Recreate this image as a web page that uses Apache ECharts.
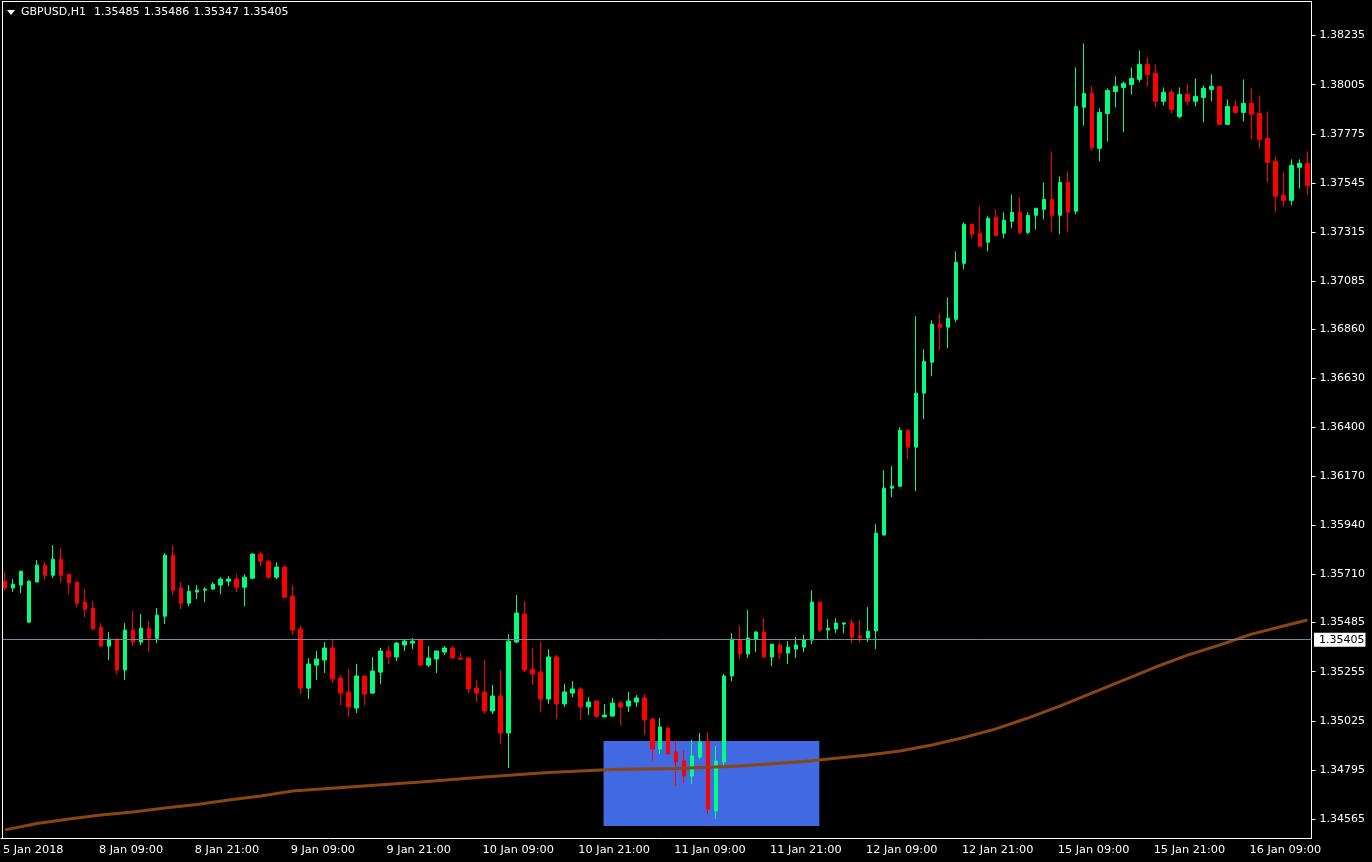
<!DOCTYPE html>
<html lang="en">
<head>
<meta charset="UTF-8">
<style>
html, body { margin: 0; height: 100%; background: #000; }
</style>
</head>
<body>
<div id="chart" style="width:1372px;height:862px;"></div>
<script src="https://cdn.jsdelivr.net/npm/echarts@6/dist/echarts.min.js"></script>
<script>
// prices in points (1.35405 = 135405), one entry per hourly candle
var openVals = [
135679,135647,135661,135487,135675,135754,135707,135782,135712,135675,
135581,135553,135464,135375,135408,135263,135450,135394,135459,135412,
135515,135801,135647,135576,135628,135637,135642,135661,135679,135689,
135651,135693,135806,135773,135698,135745,135609,135455,135178,135286,
135310,135366,135225,135160,135085,135235,135155,135253,135352,135324,
135380,135389,135403,135286,135314,135347,135366,135319,135319,135178,
135160,135071,135141,134968,135394,135525,135267,135253,135127,135324,
135104,135155,135174,135090,135118,135043,135047,135108,135094,135113,
135132,135033,134893,134991,134879,134837,134767,134855,134930,134603,
134832,135235,135403,135338,135408,135441,135324,135380,135342,135361,
135370,135403,135581,135450,135455,135478,135483,135422,135413,135446,
135895,136115,136124,136386,136307,136560,136705,136883,136869,136906,
137168,137351,137309,137267,137384,137309,137365,137407,137313,137393,
137421,137468,137393,137547,137412,137899,137964,137707,137870,137973,
137992,138006,138030,138100,138058,137927,137969,137856,137959,137927,
137945,137983,137997,137819,137903,137875,137917,137870,137753,137646,
137487,137463,137618,137636];
var closeVals = [
135647,135665,135726,135679,135754,135707,135782,135707,135670,135576,
135548,135455,135375,135408,135263,135450,135394,135459,135412,135520,
135801,135637,135576,135632,135637,135642,135665,135689,135689,135651,
135698,135806,135773,135698,135745,135604,135450,135178,135291,135314,
135366,135221,135155,135090,135235,135150,135258,135352,135324,135389,
135398,135398,135286,135319,135352,135366,135319,135314,135174,135155,
135071,135141,134968,135398,135530,135263,135244,135127,135324,135104,
135160,135174,135090,135113,135047,135052,135108,135090,135118,135132,
135029,134893,134996,134870,134832,134767,134860,134926,134612,134837,
135235,135408,135338,135413,135441,135324,135384,135342,135370,135380,
135403,135581,135450,135459,135483,135483,135417,135413,135445,135904,
136115,136124,136386,136307,136560,136709,136883,136869,136911,137173,
137351,137304,137248,137379,137299,137370,137407,137313,137393,137426,
137468,137393,137547,137407,137903,137964,137711,137875,137978,137997,
138011,138034,138100,138053,137927,137969,137889,137959,137927,137950,
137988,137997,137819,137903,137875,137917,137866,137749,137641,137482,
137463,137627,137636,137533];
var lowVals = [
135637,135628,135623,135487,135675,135684,135693,135670,135618,135558,
135511,135450,135375,135309,135244,135216,135375,135380,135347,135389,
135478,135614,135548,135562,135595,135581,135637,135618,135656,135628,
135562,135689,135749,135689,135689,135604,135427,135150,135127,135216,
135249,135202,135099,135043,135061,135099,135150,135197,135291,135305,
135352,135361,135286,135277,135249,135333,135314,135310,135155,135113,
135057,135057,134916,134804,135389,135253,135193,135066,135104,135033,
135090,135136,135029,135052,135038,135043,135047,135005,135066,135090,
134958,134837,134870,134865,134720,134734,134729,134846,134589,134565,
134809,135211,135314,135319,135347,135319,135281,135314,135291,135319,
135347,135384,135441,135403,135436,135436,135389,135394,135394,135361,
135895,136073,136120,136251,136101,136438,136639,136761,136770,136892,
137140,137285,137248,137224,137295,137285,137332,137304,137304,137327,
137374,137313,137304,137313,137398,137814,137697,137646,137739,137899,
137782,137959,138016,137997,137899,137908,137870,137847,137908,137903,
137828,137927,137819,137819,137870,137833,137749,137707,137548,137407,
137435,137440,137519,137487];
var highVals = [
135721,135689,135726,135684,135778,135768,135848,135834,135712,135675,
135642,135586,135483,135441,135412,135483,135539,135525,135492,135553,
135810,135848,135675,135661,135661,135651,135675,135698,135703,135712,
135712,135810,135815,135778,135768,135754,135661,135469,135319,135352,
135394,135408,135239,135267,135291,135235,135324,135366,135375,135394,
135408,135413,135403,135375,135352,135375,135375,135342,135324,135216,
135310,135193,135263,135431,135614,135586,135366,135394,135361,135333,
135197,135211,135183,135136,135118,135104,135132,135118,135160,135146,
135150,135038,135038,134996,134930,134888,134935,134968,134973,134907,
135244,135436,135473,135544,135445,135506,135384,135394,135398,135417,
135427,135637,135581,135501,135506,135487,135501,135497,135558,135946,
136199,136218,136401,136391,136920,136766,136901,136934,137009,137224,
137360,137355,137435,137388,137421,137407,137491,137477,137407,137426,
137547,137693,137575,137599,138086,138198,137997,137894,137988,138044,
138020,138086,138165,138133,138100,137992,137983,137992,138011,138034,
138002,138053,137997,137936,137931,138030,137988,137955,137880,137669,
137594,137655,137655,137693];

// moving average read at these candles
var maIndex = [0,4,8,12,16,20,24,28,32,36,44,52,60,68,76,84,92,100,108,112,116,120,124,128,132,136,140,144,148,152,156,160,163];
var maVals = [134514,134544,134565,134584,134598,134617,134633,134654,134673,134696,134717,134738,134762,134783,134797,134802,134813,134834,134865,134884,134912,134947,134987,135038,135094,135155,135216,135277,135333,135380,135431,135469,135497];

var priceTicks = [138235,138005,137775,137545,137315,137085,136860,136630,136400,136170,135940,135710,135485,135255,135025,134795,134565];
var timeLabels = ['5 Jan 2018','8 Jan 09:00','8 Jan 21:00','9 Jan 09:00','9 Jan 21:00','10 Jan 09:00','10 Jan 21:00','11 Jan 09:00','11 Jan 21:00','12 Jan 09:00','12 Jan 21:00','15 Jan 09:00','15 Jan 21:00','16 Jan 09:00'];

var lastPrice = 135405;
var boxFrom = 75, boxTo = 102, boxLow = 134532, boxHigh = 134930;
var symbolText = 'GBPUSD,H1';
var ohlcText = ['1.35485', '1.35486', '1.35347', '1.35405'];

var categories = openVals.map(function (v, i) { return String(i); });
var candleData = openVals.map(function (v, i) {
    return [v, closeVals[i], lowVals[i], highVals[i]];
});
var maData = maIndex.map(function (k, i) { return [k, maVals[i]]; });

var fontName = 'DejaVu Sans';
var yMin = 134476, yMax = 138390;

var headerTexts = ohlcText.map(function (t, i) {
    return {
        type: 'text', z: 51, silent: true, x: 94 + i * 49.7, y: 7,
        style: { text: t, fill: '#fff', fontSize: 11, fontFamily: fontName }
    };
});

var myChart = echarts.init(document.getElementById('chart'));
myChart.setOption({
    animation: false,
    backgroundColor: '#000',
    title: {
        text: symbolText, left: 21, top: 7, padding: 0,
        textStyle: { color: '#fff', fontSize: 11, fontWeight: 'normal', fontFamily: fontName }
    },
    grid: [
        { left: -0.5, top: 2.5, width: 1312, height: 835.5 },
        // half a pixel to the left, so the rectangle edges land on whole pixels
        { left: -1, top: 2.5, width: 1312, height: 835.5 }
    ],
    xAxis: [
        {
            type: 'category',
            data: categories,
            axisLine: { lineStyle: { color: '#fff', width: 1 } },
            axisTick: { length: 4, interval: 11, alignWithLabel: true, lineStyle: { color: '#fff' } },
            axisLabel: {
                interval: 11, align: 'left', margin: 7, padding: [0, 0, 0, -2],
                color: '#fff', fontSize: 11.3, fontFamily: fontName,
                formatter: function (v, i) { return timeLabels[i / 12]; }
            },
            splitLine: { show: false }
        },
        { type: 'category', gridIndex: 1, data: categories, show: false }
    ],
    yAxis: [
        {
            type: 'value',
            position: 'right',
            min: yMin,
            max: yMax,
            axisLine: { show: true, lineStyle: { color: '#fff', width: 1 } },
            axisTick: { show: true, length: 4, customValues: priceTicks, lineStyle: { color: '#fff' } },
            axisLabel: {
                customValues: priceTicks, margin: 8,
                color: '#fff', fontSize: 11, fontFamily: fontName,
                formatter: function (v) { return (v / 100000).toFixed(5); }
            },
            splitLine: { show: false }
        },
        { type: 'value', gridIndex: 1, min: yMin, max: yMax, show: false, splitLine: { show: false } }
    ],
    series: [
        {
            type: 'line', data: [], z: 1, silent: true, xAxisIndex: 1, yAxisIndex: 1,
            markArea: {
                silent: true,
                itemStyle: { color: '#4169E1', opacity: 1 },
                data: [[{ xAxis: boxFrom, yAxis: boxHigh }, { xAxis: boxTo, yAxis: boxLow }]]
            }
        },
        {
            type: 'line', data: [], z: 1, silent: true,
            markLine: {
                silent: true, symbol: 'none', animation: false,
                lineStyle: { color: '#778899', width: 1, type: 'solid' },
                label: {
                    position: 'end', distance: 2.5,
                    color: '#000', backgroundColor: '#fff', padding: [2, 1, 1, 5],
                    fontSize: 11, fontFamily: fontName,
                    formatter: function () { return (lastPrice / 100000).toFixed(5); }
                },
                data: [{ yAxis: lastPrice }]
            }
        },
        {
            type: 'candlestick', z: 2,
            data: candleData,
            barWidth: 4,
            itemStyle: {
                color: '#00FF7F', color0: '#FF0000',
                borderColor: '#00FF7F', borderColor0: '#FF0000', borderWidth: 1
            }
        },
        {
            type: 'line', z: 3,
            data: maData,
            symbol: 'none',
            lineStyle: { color: '#8B4513', width: 3 }
        }
    ],
    graphic: [
        { type: 'rect', z: 50, silent: true, shape: { x: 0, y: 0, width: 2, height: 838 }, style: { fill: '#000' } },
        { type: 'rect', z: 51, silent: true, shape: { x: 2, y: 1, width: 1, height: 838 }, style: { fill: '#fff' } },
        { type: 'rect', z: 51, silent: true, shape: { x: 2, y: 1, width: 1310, height: 1 }, style: { fill: '#fff' } },
        { type: 'polygon', z: 51, silent: true, shape: { points: [[7, 10], [15, 10], [11, 15]] }, style: { fill: '#fff' } }
    ].concat(headerTexts)
});
</script>
</body>
</html>
